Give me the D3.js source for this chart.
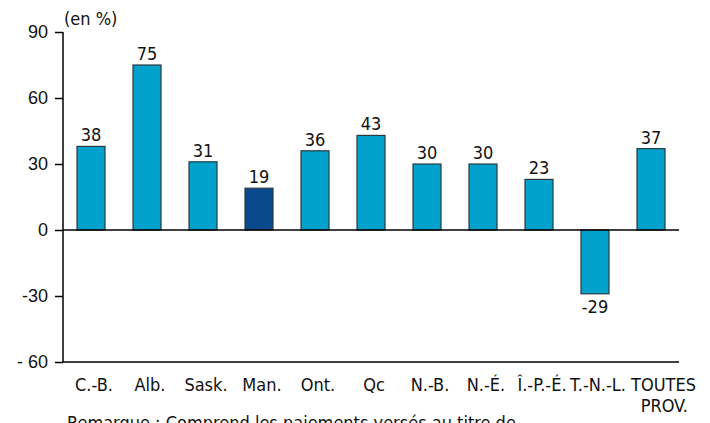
<!DOCTYPE html>
<html>
<head>
<meta charset="utf-8">
<script src="https://cdn.jsdelivr.net/npm/d3@7"></script>
<style>
  body { margin: 0; background: #fff; }
  svg { display: block; font-family: "DejaVu Sans Condensed", "DejaVu Sans", sans-serif; }
</style>
</head>
<body>
<svg id="chart" width="710" height="423"></svg>
<script>
// data
var provinces = ['C.-B.', 'Alb.', 'Sask.', 'Man.', 'Ont.', 'Qc', 'N.-B.', 'N.-É.', 'Î.-P.-É.', 'T.-N.-L.', 'TOUTES;PROV.'];
var changes = [38, 75, 31, 19, 36, 43, 30, 30, 23, -29, 37];
var yTicks = [90, 60, 30, 0, -30, -60];
var tickLabels = ['90', '60', '30', '0', '-30', '- 60'];
var highlight = 'Man.';
var note = 'Remarque : Comprend les paiements versés au titre de';

var svg = d3.select('#chart');
var mLeft = 63, mRight = 679, mTop = 32, mBottom = 362;
var fs = '18px';

var x = d3.scaleBand()
	.domain(provinces)
	.range([mLeft, mRight])
	.paddingInner(0.5)
	.paddingOuter(0.25);

var y = d3.scaleLinear()
	.domain([-60, 90])
	.range([mBottom, mTop]);

// y axis
var yAxis = d3.axisLeft(y)
	.tickValues(yTicks)
	.tickSize(8)
	.tickFormat((d, i) => tickLabels[i]);
var gy = svg.append('g')
	.attr('transform', `translate(${mLeft},0)`)
	.call(yAxis);
gy.select('.domain').attr('stroke', '#000').attr('stroke-width', 1.5).attr('d', `M0,${mTop}V${mBottom}`);
gy.selectAll('.tick line').attr('stroke', '#000').attr('stroke-width', 1.5);
gy.selectAll('.tick text')
	.attr('x', -15)
	.attr('fill', '#111')
	.style('font-size', fs)
	.style('font-family', 'inherit');

// bottom line at -60
svg.append('line')
	.attr('x1', mLeft).attr('x2', mRight)
	.attr('y1', y(-60)).attr('y2', y(-60))
	.attr('stroke', '#000').attr('stroke-width', 1.5);

// bars
svg.selectAll('.bar')
	.data(provinces)
	.enter().append('rect')
	.attr('class', 'bar')
	.attr('x', d => x(d))
	.attr('width', x.bandwidth())
	.attr('y', (d, i) => y(Math.max(0, changes[i])))
	.attr('height', (d, i) => Math.abs(y(changes[i]) - y(0)))
	.attr('fill', d => d === highlight ? '#0a4a8c' : '#00a2cc')
	.attr('stroke', '#2b3a40')
	.attr('stroke-width', 1.2);

// zero line
svg.append('line')
	.attr('x1', mLeft).attr('x2', mRight)
	.attr('y1', y(0)).attr('y2', y(0))
	.attr('stroke', '#000').attr('stroke-width', 1.5);

// value labels
svg.selectAll('.val')
	.data(provinces)
	.enter().append('text')
	.attr('class', 'val')
	.attr('x', d => x(d) + x.bandwidth() / 2)
	.attr('y', (d, i) => changes[i] >= 0 ? y(changes[i]) - 5 : y(changes[i]) + 19)
	.attr('text-anchor', 'middle')
	.style('font-size', fs)
	.attr('fill', '#111')
	.text((d, i) => changes[i]);

// category labels (the last one is on two lines, pushed right)
var cat = svg.selectAll('.cat')
	.data(provinces)
	.enter().append('text')
	.attr('class', 'cat')
	.attr('y', 391)
	.style('font-size', fs)
	.attr('fill', '#111');
cat.each(function (d) {
	var parts = d.split(';');
	var t = d3.select(this);
	var cx = x(d) + x.bandwidth() / 2;
	if (parts.length === 1) {
		t.attr('x', cx + 3).attr('text-anchor', 'middle').text(d);
		return;
	}
	parts.forEach((p, j) => {
		t.append('tspan')
			.attr('x', j === 0 ? cx + 45 : cx + 37)
			.attr('dy', j === 0 ? 0 : 21)
			.attr('text-anchor', 'end')
			.text(p);
	});
});

// unit label
svg.append('text')
	.attr('x', 64).attr('y', 25)
	.style('font-size', fs)
	.attr('fill', '#111')
	.text('(en %)');

// note, cut by the bottom edge
svg.append('text')
	.attr('x', 67).attr('y', 429)
	.style('font-size', fs)
	.attr('fill', '#111')
	.text(note);
</script>
</body>
</html>
